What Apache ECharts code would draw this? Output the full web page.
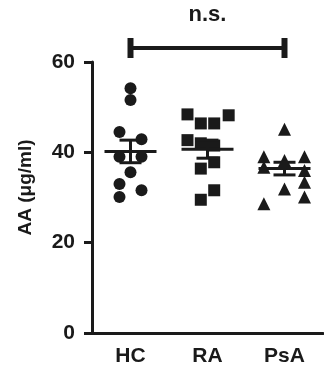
<!DOCTYPE html>
<html>
<head>
<meta charset="utf-8">
<script src="https://cdn.jsdelivr.net/npm/echarts@6/dist/echarts.min.js"></script>
<style>
  html, body { margin: 0; padding: 0; background: #fff; }
  #chart { width: 324px; height: 373px; }
</style>
</head>
<body>
<div id="chart"></div>
<script>
// 分组
var groups = ['HC', 'RA', 'PsA'];

// 每组的散点 (AA, μg/ml) 以及水平抖动 (单位: 类目宽度)
var hcValues  = [54.2, 51.6, 44.5, 42.9, 39.0, 39.0, 35.6, 33.0, 31.6, 30.1];
var hcJitter  = [0, 0, -0.143, 0.143, -0.143, 0.143, 0, -0.143, 0.143, -0.143];
var raValues  = [48.4, 48.2, 46.4, 46.4, 42.7, 42.0, 41.5, 37.8, 36.4, 31.6, 29.5];
var raJitter  = [-0.26, 0.275, -0.087, 0.087, -0.26, -0.087, 0.087, 0.087, -0.087, 0.087, -0.087];
var psaValues = [45.1, 39.0, 39.0, 38.2, 36.7, 36.0, 33.4, 31.9, 30.1, 28.6];
var psaJitter = [0, -0.268, 0.26, 0, -0.268, 0.26, 0.26, 0, 0.26, -0.268];

// 均值 ± SEM
var groupMeans = [40.2, 40.7, 36.4];
var groupSems  = [2.5, 2.0, 1.4];

// 显著性标注: HC vs PsA
var sigLabel = 'n.s.';
var sigFrom = 0;
var sigTo = 2;
var sigLevel = 63.1;

var yTicks = { min: 0, max: 60, interval: 20 };

var INK = '#1a1a1a';
var FONT = '"Liberation Sans", Arial, sans-serif';

/**
 * 把某组的值转换成 [x, y] 点, x 落在隐藏的数值轴上
 */
function jitterPoints(idx, values, jitter) {
    return values.map(function (v, i) {
        return [idx + 0.5 + jitter[i], v];
    });
}

function scatterSeries(idx, values, jitter, symbol, size) {
    return {
        type: 'scatter',
        xAxisIndex: 1,
        symbol: symbol,
        symbolSize: size,
        itemStyle: { color: INK, opacity: 1 },
        data: jitterPoints(idx, values, jitter),
        z: 2
    };
}

var meanData = groups.map(function (g, i) {
    return [i + 0.5, groupMeans[i], groupSems[i]];
});

//均值线 + 误差线
function renderMean(params, api) {
    var x = api.value(0), m = api.value(1), s = api.value(2);
    var c = api.coord([x, m]);
    var top = api.coord([x, m + s]);
    var bot = api.coord([x, m - s]);
    var st = { stroke: INK, lineWidth: 3 };
    return {
        type: 'group',
        children: [
            { type: 'line', shape: { x1: c[0] - 26, y1: c[1], x2: c[0] + 26, y2: c[1] }, style: st },
            { type: 'line', shape: { x1: c[0], y1: top[1], x2: c[0], y2: bot[1] }, style: st },
            { type: 'line', shape: { x1: c[0] - 11, y1: top[1], x2: c[0] + 11, y2: top[1] }, style: st },
            { type: 'line', shape: { x1: c[0] - 11, y1: bot[1], x2: c[0] + 11, y2: bot[1] }, style: st }
        ]
    };
}

//显著性括线
function renderSig(params, api) {
    var p1 = api.coord([api.value(0), api.value(2)]);
    var p2 = api.coord([api.value(1), api.value(2)]);
    return {
        type: 'group',
        children: [
            { type: 'line', shape: { x1: p1[0], y1: p1[1], x2: p2[0], y2: p2[1] }, style: { stroke: INK, lineWidth: 4 } },
            { type: 'line', shape: { x1: p1[0], y1: p1[1] - 10, x2: p1[0], y2: p1[1] + 10 }, style: { stroke: INK, lineWidth: 6 } },
            { type: 'line', shape: { x1: p2[0], y1: p2[1] - 10, x2: p2[0], y2: p2[1] + 10 }, style: { stroke: INK, lineWidth: 6 } },
            {
                type: 'text',
                style: {
                    x: (p1[0] + p2[0]) / 2, y: p1[1] - 33,
                    text: sigLabel, align: 'center', verticalAlign: 'middle',
                    fill: INK, font: 'bold 22px ' + FONT
                }
            }
        ]
    };
}

var chart = echarts.init(document.getElementById('chart'));
chart.setOption({
    animation: false,
    grid: { left: 92, right: 1, top: 62, bottom: 40 },
    xAxis: [{
        type: 'category',
        data: groups,
        boundaryGap: true,
        axisLine: { lineStyle: { color: INK, width: 3 } },
        axisTick: { alignWithLabel: true, length: 7, lineStyle: { color: INK, width: 3 } },
        axisLabel: { color: INK, fontSize: 21, fontWeight: 'bold', fontFamily: FONT, margin: 13 },
        splitLine: { show: false }
    }, {
        type: 'value',
        min: 0,
        max: groups.length,
        show: false
    }],
    yAxis: {
        type: 'value',
        min: yTicks.min,
        max: yTicks.max,
        interval: yTicks.interval,
        name: 'AA (μg/ml)',
        nameLocation: 'middle',
        nameGap: 57,
        nameTextStyle: { color: INK, fontSize: 19, fontWeight: 'bold', fontFamily: FONT, padding: [0, 0, 0, 20] },
        axisLine: { show: true, lineStyle: { color: INK, width: 3 } },
        axisTick: { show: true, length: 8, lineStyle: { color: INK, width: 3 } },
        axisLabel: { color: INK, fontSize: 21, fontWeight: 'bold', fontFamily: FONT, margin: 17 },
        splitLine: { show: false }
    },
    series: [
        scatterSeries(0, hcValues, hcJitter, 'circle', 12),
        scatterSeries(1, raValues, raJitter, 'rect', 12),
        scatterSeries(2, psaValues, psaJitter, 'triangle', 13),
        {
            type: 'custom',
            xAxisIndex: 1,
            renderItem: renderMean,
            data: meanData,
            z: 3
        },
        {
            type: 'custom',
            xAxisIndex: 1,
            renderItem: renderSig,
            clip: false,
            data: [[sigFrom + 0.5, sigTo + 0.5, sigLevel]],
            z: 3
        }
    ]
});
</script>
</body>
</html>
